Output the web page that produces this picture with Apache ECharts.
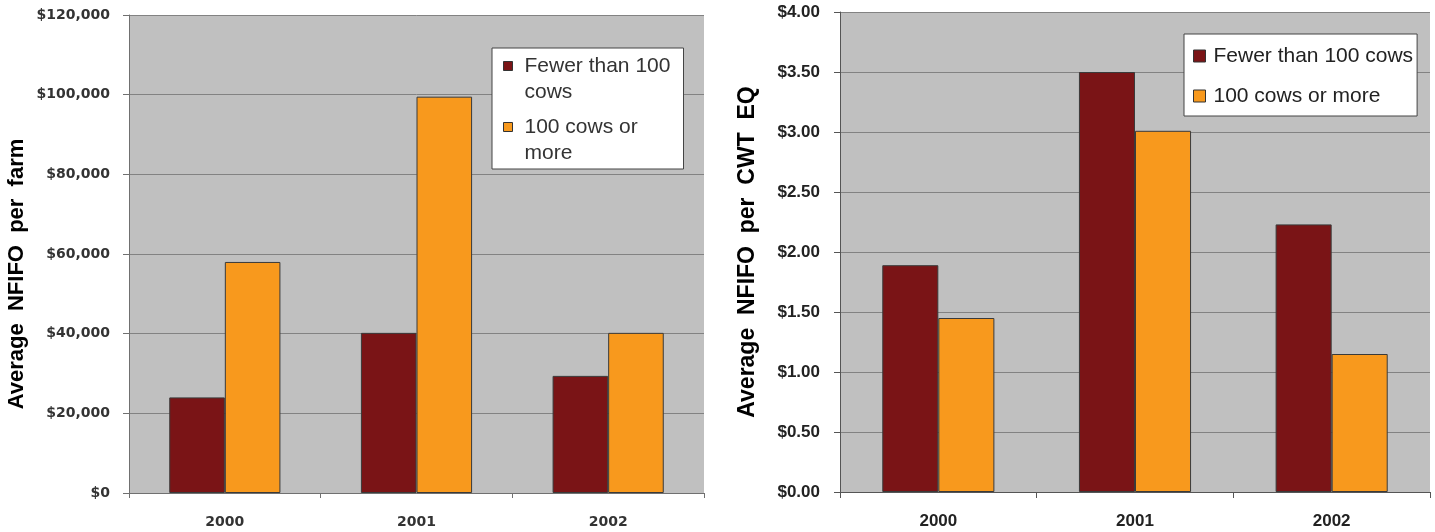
<!DOCTYPE html>
<html><head><meta charset="utf-8">
<script src="https://cdn.jsdelivr.net/npm/echarts@6/dist/echarts.min.js"></script>
<style>html,body{margin:0;padding:0;background:#fff}#c{width:1435px;height:532px}</style>
</head><body><div id="c"></div>
<script>
const years = ['2000', '2001', '2002'];
const seriesNames = ['Fewer than 100 cows', '100 cows or more'];
const perFarmSmall = [24000, 40200, 29400];
const perFarmLarge = [58000, 99500, 40200];
const perCwtSmall = [1.89, 3.50, 2.23];
const perCwtLarge = [1.45, 3.01, 1.15];
const leftAxisName = 'Average  NFIFO  per  farm';
const rightAxisName = 'Average  NFIFO  per  CWT  EQ';

const MAROON = '#7A1416', ORANGE = '#F8991D';
const chart = echarts.init(document.getElementById('c'), null, {renderer: 'canvas'});
const barStyle = c => ({color: c, borderColor: '#3a3a3a', borderWidth: 1});
const axisCommon = {
  axisLine: {show: true, lineStyle: {color: '#707070', width: 1}},
  axisTick: {show: true, length: 6, lineStyle: {color: '#707070'}},
};
chart.setOption({
  animation: false,
  backgroundColor: '#ffffff',
  grid: [
    {left: 129, top: 15, width: 575, height: 478, show: true, backgroundColor: '#c0c0c0', borderWidth: 0, containLabel: false, outerBoundsMode: 'none'},
    {left: 840, top: 12, width: 590, height: 480, show: true, backgroundColor: '#c0c0c0', borderWidth: 0, containLabel: false, outerBoundsMode: 'none'}
  ],
  legend: [
    {
      data: seriesNames, orient: 'vertical', left: 492, top: 48,
      backgroundColor: '#ffffff', borderColor: '#444', borderWidth: 1,
      padding: [5, 0, 3, 11], itemGap: 9, itemWidth: 16, itemHeight: 35,
      icon: 'path://M0,0h9v9h-9zM16,35',
      itemStyle: {borderColor: '#333', borderWidth: 1},
      selectedMode: false,
      textStyle: {fontFamily: 'Liberation Sans', fontSize: 21, color: '#333', width: 159, overflow: 'break', lineHeight: 26}
    },
    {
      data: seriesNames, orient: 'vertical', left: 1184, top: 34,
      backgroundColor: '#ffffff', borderColor: '#444', borderWidth: 1,
      padding: [10, 4, 8, 9], itemGap: 16, itemWidth: 15, itemHeight: 12,
      icon: 'path://M0,0h12v12h-12zM15,12',
      itemStyle: {borderColor: '#333', borderWidth: 1},
      selectedMode: false,
      textStyle: {fontFamily: 'Liberation Sans', fontSize: 21, color: '#222', lineHeight: 24}
    }
  ],
  xAxis: [
    Object.assign({type: 'category', gridIndex: 0, data: years,
      axisLabel: {margin: 22, fontFamily: 'DejaVu Sans', fontWeight: 'bold', fontSize: 14, color: '#333'}}, axisCommon,
      {axisTick: {show: true, length: 5, alignWithLabel: false, lineStyle: {color: '#707070'}}}),
    Object.assign({type: 'category', gridIndex: 1, data: years,
      axisLabel: {margin: 21, fontFamily: 'Liberation Sans', fontWeight: 'bold', fontSize: 17, color: '#222'}}, axisCommon,
      {axisTick: {show: true, length: 6, alignWithLabel: false, lineStyle: {color: '#555'}}, axisLine: {show: true, lineStyle: {color: '#555'}}})
  ],
  yAxis: [
    Object.assign({type: 'value', gridIndex: 0, min: 0, max: 120000, interval: 20000,
      splitLine: {show: true, lineStyle: {color: '#828282', width: 1}},
      axisLabel: {margin: 19, fontFamily: 'DejaVu Sans', fontWeight: 'bold', fontSize: 14, color: '#333',
        formatter: v => '$' + v.toLocaleString('en-US')},
      name: leftAxisName, nameLocation: 'middle', nameGap: 101, nameRotate: 90,
      nameTextStyle: {fontFamily: 'Liberation Sans', fontWeight: 'bold', fontSize: 22, color: '#000', padding: [0, 40, 0, 0]}}, axisCommon),
    Object.assign({type: 'value', gridIndex: 1, min: 0, max: 4, interval: 0.5,
      splitLine: {show: true, lineStyle: {color: '#828282', width: 1}},
      axisLabel: {margin: 20, fontFamily: 'Liberation Sans', fontWeight: 'bold', fontSize: 17, color: '#222',
        formatter: v => '$' + v.toFixed(2)},
      name: rightAxisName, nameLocation: 'middle', nameGap: 81, nameRotate: 90,
      nameTextStyle: {fontFamily: 'Liberation Sans', fontWeight: 'bold', fontSize: 23, color: '#000'}}, axisCommon,
      {axisLine: {show: true, lineStyle: {color: '#555'}}, axisTick: {show: true, length: 6, lineStyle: {color: '#555'}}})
  ],
  series: [
    {name: seriesNames[0], type: 'bar', xAxisIndex: 0, yAxisIndex: 0, data: perFarmSmall, itemStyle: barStyle(MAROON), barGap: '0%', barCategoryGap: '42%'},
    {name: seriesNames[1], type: 'bar', xAxisIndex: 0, yAxisIndex: 0, data: perFarmLarge, itemStyle: barStyle(ORANGE), barGap: '0%', barCategoryGap: '42%'},
    {name: seriesNames[0], type: 'bar', xAxisIndex: 1, yAxisIndex: 1, data: perCwtSmall, itemStyle: barStyle(MAROON), barGap: '0%', barCategoryGap: '43%'},
    {name: seriesNames[1], type: 'bar', xAxisIndex: 1, yAxisIndex: 1, data: perCwtLarge, itemStyle: barStyle(ORANGE), barGap: '0%', barCategoryGap: '43%'}
  ]
});
</script></body></html>
